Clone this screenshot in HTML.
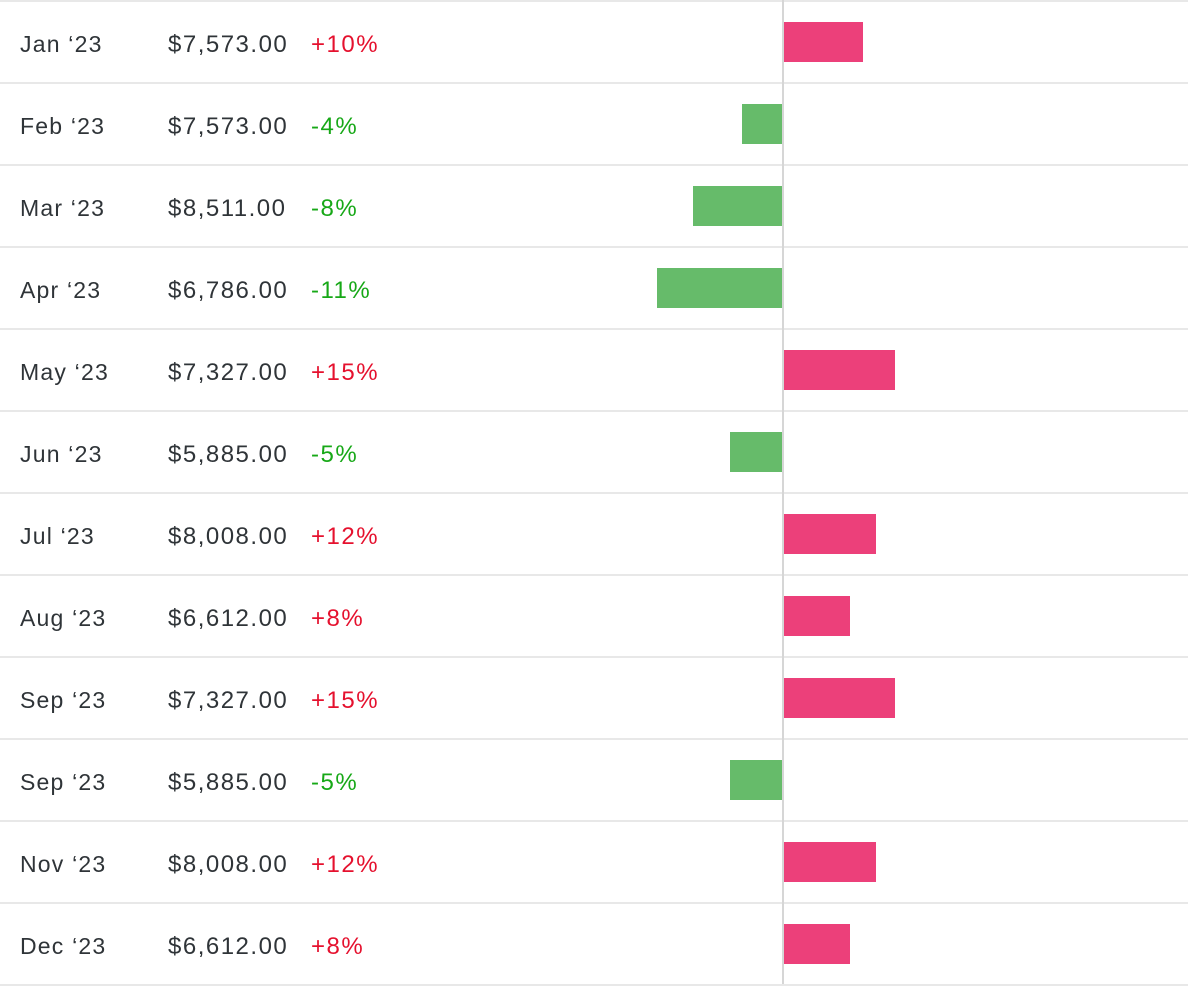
<!DOCTYPE html>
<html><head><meta charset="utf-8"><style>
body{margin:0;width:1188px;height:986px;background:#fff;font-family:"Liberation Sans",sans-serif;overflow:hidden}
#chart{position:relative;width:1188px;height:986px}
.row{position:absolute;left:0;width:1188px;height:82px;border-top:2px solid #e8e8e8;box-sizing:border-box}
.lbl,.amt,.pct{position:absolute;top:1px;line-height:82px;font-size:23px;letter-spacing:1.2px;color:#2f3438}
.amt,.pct{font-size:24px;letter-spacing:1.5px;top:2px}
.lbl{left:20px}.amt{left:168px}.pct{left:311px}
.up{color:#e5112e}.down{color:#17a817}
.bar{position:absolute;height:40px;top:20px}
#axis{position:absolute;left:782px;top:0;width:2px;height:986px;background:#d6d6d6}
</style></head><body>
<div id="chart">
<div id="axis"></div>
</div>
<script>
const months=["Jan ‘23","Feb ‘23","Mar ‘23","Apr ‘23","May ‘23","Jun ‘23","Jul ‘23","Aug ‘23","Sep ‘23","Sep ‘23","Nov ‘23","Dec ‘23"];
const amounts=["$7,573.00","$7,573.00","$8,511.00","$6,786.00","$7,327.00","$5,885.00","$8,008.00","$6,612.00","$7,327.00","$5,885.00","$8,008.00","$6,612.00"];
const changes=[10,-4,-8,-11,15,-5,12,8,15,-5,12,8];
const chart=document.getElementById('chart');
const zeroX=783, rowH=82;
function barW(v){return v>=0?16+6.3*v:-8+12.2*(-v);}
changes.forEach((v,i)=>{
  const r=document.createElement('div');r.className='row';r.style.top=(i*rowH)+'px';
  
  
  const l=document.createElement('div');l.className='lbl';l.textContent=months[i];
  
  
  const a=document.createElement('div');a.className='amt';a.textContent=amounts[i];
  
  
  const p=document.createElement('div');p.className='pct '+(v>=0?'up':'down');p.textContent=(v>=0?'+':'')+v+'%';
  
  
  const b=document.createElement('div');b.className='bar';
  
  
  const w=barW(v);
  b.style.width=w+'px';
  b.style.left=(v>=0?zeroX+1:zeroX-w)+'px';
  b.style.background=v>=0?'#ec407a':'#66bb6a';
  r.append(l,a,p,b);chart.insertBefore(r,chart.firstChild);
});
const end=document.createElement('div');end.className='row';end.style.top=(12*rowH)+'px';end.style.height='4px';


chart.appendChild(end);
</script></body></html>
